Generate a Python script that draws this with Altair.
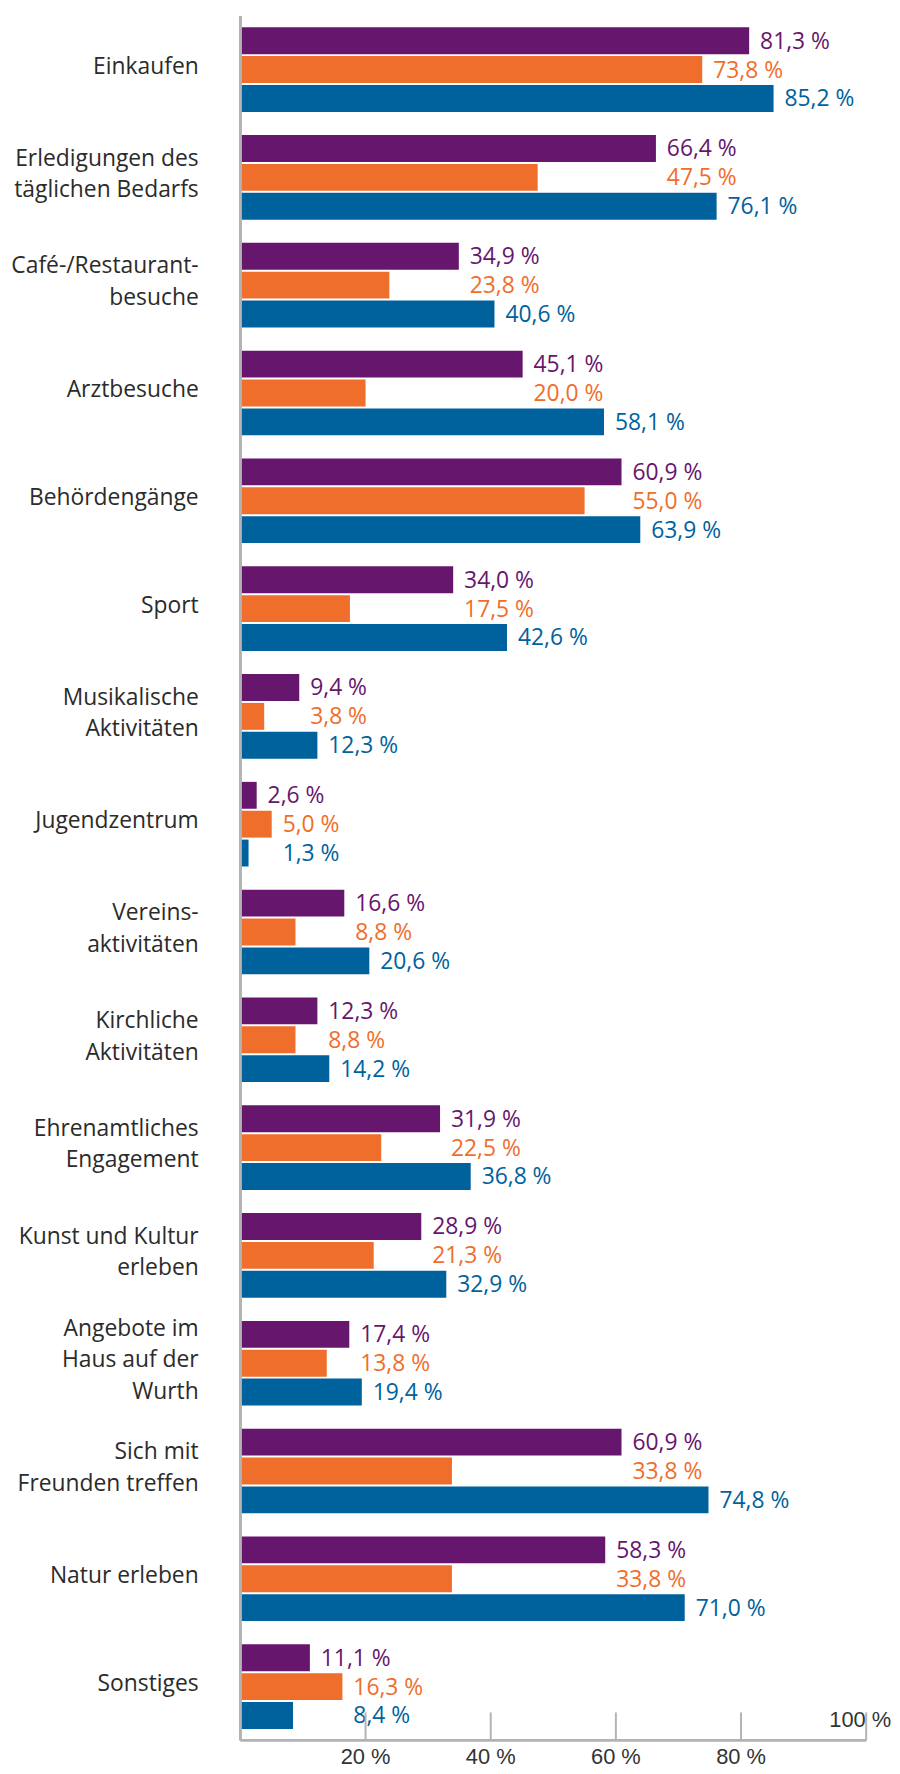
import altair as alt
import pandas as pd

categories = [
    "Einkaufen", "Erledigungen des täglichen Bedarfs", "Café-/Restaurantbesuche",
    "Arztbesuche", "Behördengänge", "Sport", "Musikalische Aktivitäten",
    "Jugendzentrum", "Vereinsaktivitäten", "Kirchliche Aktivitäten",
    "Ehrenamtliches Engagement", "Kunst und Kultur erleben",
    "Angebote im Haus auf der Wurth", "Sich mit Freunden treffen",
    "Natur erleben", "Sonstiges",
]
category_lines = [
    ["Einkaufen"], ["Erledigungen des", "täglichen Bedarfs"], ["Café-/Restaurant-", "besuche"],
    ["Arztbesuche"], ["Behördengänge"], ["Sport"], ["Musikalische", "Aktivitäten"],
    ["Jugendzentrum"], ["Vereins-", "aktivitäten"], ["Kirchliche", "Aktivitäten"],
    ["Ehrenamtliches", "Engagement"], ["Kunst und Kultur", "erleben"],
    ["Angebote im", "Haus auf der", "Wurth"], ["Sich mit", "Freunden treffen"],
    ["Natur erleben"], ["Sonstiges"],
]
series_names = ["Reihe 1", "Reihe 2", "Reihe 3"]
series_colors = ["#67166D", "#EF6E2B", "#00629D"]
values_purple = [81.3, 66.4, 34.9, 45.1, 60.9, 34.0, 9.4, 2.6, 16.6, 12.3, 31.9, 28.9, 17.4, 60.9, 58.3, 11.1]
values_orange = [73.8, 47.5, 23.8, 20.0, 55.0, 17.5, 3.8, 5.0, 8.8, 8.8, 22.5, 21.3, 13.8, 33.8, 33.8, 16.3]
values_blue = [85.2, 76.1, 40.6, 58.1, 63.9, 42.6, 12.3, 1.3, 20.6, 14.2, 36.8, 32.9, 19.4, 74.8, 71.0, 8.4]
tick_values = [20, 40, 60, 80, 100]
tick_labels = ["20 %", "40 %", "60 %", "80 %", "100 %"]

W, H = 630, 1736
FONT = "Open Sans"
LINE_H = 31.7


def fmt(v):
    return f"{v:.1f}".replace(".", ",") + " %"


rows = []
for i, cat in enumerate(categories):
    p, o, b = values_purple[i], values_orange[i], values_blue[i]
    # label anchors (labels of lower bars are pushed right to stay clear of the labels above)
    a_p = p
    a_o = o if (o >= p or cat == "Einkaufen") else p
    a_b = max(b, a_o)
    for s, v, a in zip(series_names, (p, o, b), (a_p, a_o, a_b)):
        rows.append({"cat": cat, "series": s, "value": v, "anchor": a, "label": fmt(v)})
df = pd.DataFrame(rows)

line_rows = []
for cat, lines in zip(categories, category_lines):
    n = len(lines)
    for j, t in enumerate(lines):
        line_rows.append({"cat": cat, "text": t, "k": j - (n - 1) / 2})
lines_df = pd.DataFrame(line_rows)

ticks_df = pd.DataFrame({"x": tick_values, "label": tick_labels})

y_enc = alt.Y("cat:N", sort=categories, axis=None,
              scale=alt.Scale(paddingInner=0.215, paddingOuter=0.105, round=False))
y_off = alt.YOffset("series:N", sort=series_names,
                    scale=alt.Scale(paddingInner=0.069, paddingOuter=0, round=False))
x_scale = alt.Scale(domain=[0, 100], nice=False, zero=True)
color = alt.Color("series:N", scale=alt.Scale(domain=series_names, range=series_colors), legend=None)

base = alt.Chart(df)

bars = base.mark_bar().encode(
    x=alt.X("value:Q", scale=x_scale, axis=None),
    y=y_enc, yOffset=y_off, color=color,
)

labels = base.mark_text(align="left", baseline="middle", dx=11, dy=1,
                        font=FONT, fontSize=23).encode(
    x=alt.X("anchor:Q", scale=x_scale, axis=None),
    y=y_enc, yOffset=y_off, color=color, text="label:N",
)

cat_layers = []
for k in [-1.0, -0.5, 0.0, 0.5, 1.0]:
    cat_layers.append(
        alt.Chart(lines_df).transform_filter(f"datum.k == {k}").mark_text(
            align="right", baseline="middle", font=FONT, fontSize=23,
            color="#2b2b2b", dy=k * LINE_H - 3,
        ).encode(x=alt.value(-42), y=y_enc, text="text:N")
    )

left_line = alt.Chart(ticks_df).mark_rule(color="#b3b3b3", strokeWidth=2).encode(
    x=alt.value(0), y=alt.value(0), y2=alt.value(H)
)
bottom_line = alt.Chart(ticks_df).mark_rule(color="#b3b3b3", strokeWidth=2).encode(
    x=alt.value(0), x2=alt.value(W), y=alt.value(H)
)
tick_marks = alt.Chart(ticks_df).mark_rule(color="#b3b3b3", strokeWidth=2).encode(
    x=alt.X("x:Q", scale=x_scale, axis=None), y=alt.value(H - 28), y2=alt.value(H)
)
tick_text_low = alt.Chart(ticks_df).transform_filter("datum.x < 100").mark_text(
    align="center", baseline="middle", font="Liberation Sans", fontSize=22, color="#333333"
).encode(
    x=alt.X("x:Q", scale=x_scale, axis=None), y=alt.value(H + 17), text="label:N"
)
tick_text_top = alt.Chart(ticks_df).transform_filter("datum.x >= 100").mark_text(
    align="center", baseline="middle", font="Liberation Sans", fontSize=22, color="#333333", dx=-6
).encode(
    x=alt.X("x:Q", scale=x_scale, axis=None), y=alt.value(H - 20), text="label:N"
)

chart = alt.layer(
    bars, labels, *cat_layers, left_line, bottom_line, tick_marks, tick_text_low, tick_text_top
).properties(
    width=W, height=H,
    autosize=alt.AutoSizeParams(type="none"),
    padding={"left": 234, "top": 2, "right": 26, "bottom": 26},
).configure_view(stroke=None)

chart.save("out.html", embed_options={"renderer": "svg", "actions": False})
